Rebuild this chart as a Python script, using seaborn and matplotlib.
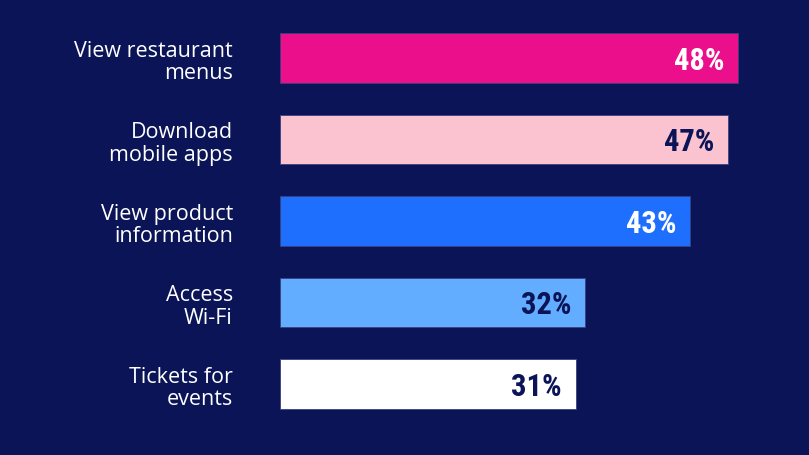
import matplotlib
matplotlib.use("Agg")
import matplotlib.pyplot as plt
import seaborn as sns
import pandas as pd

categories = ["View restaurant\nmenus", "Download\nmobile apps", "View product\ninformation", "Access\nWi-Fi", "Tickets for\nevents"]
values = [48, 47, 43, 32, 31]
value_labels = ["48%", "47%", "43%", "32%", "31%"]
bar_colors = ["#ec0f8c", "#fbc3d0", "#1f6fff", "#62adff", "#ffffff"]
label_colors = ["#ffffff", "#0a1456", "#ffffff", "#0a1456", "#0a1456"]

BG = "#0a1456"

sns.set_theme(style="white")
plt.rcParams['font.family'] = ['Open Sans', 'DejaVu Sans']

df = pd.DataFrame({"category": categories, "value": values})

fig = plt.figure(figsize=(8.09, 4.56), dpi=100, facecolor=BG)
ax = fig.add_axes([280/809, 0, 1 - 280/809, 1])
ax.set_facecolor(BG)

sns.barplot(data=df, x="value", y="category", hue="category", palette=bar_colors,
            legend=False, orient="h", width=0.613, ax=ax, saturation=1,
            edgecolor="#3a4080", linewidth=0.6)

ax.set_xlim(0, 529/9.54)
ax.set_ylim(4.871, -0.724)
ax.set_xlabel("")
ax.set_ylabel("")
ax.set_xticks([])
for s in ax.spines.values():
    s.set_visible(False)

ax.tick_params(axis="y", length=0, pad=34)
for lbl in ax.get_yticklabels():
    lbl.set_color("white")
    lbl.set_fontsize(15.5)
    lbl.set_fontfamily(['Open Sans', 'DejaVu Sans'])
    lbl.set_horizontalalignment("right")
    lbl.set_multialignment("right")
    lbl.set_linespacing(1.12)

for i, (v, t, c) in enumerate(zip(values, value_labels, label_colors)):
    ax.text(v - 1.45, i + 0.02, t, ha="right", va="center", color=c,
            fontsize=22, fontweight="bold", fontstretch="condensed",
            family=['Roboto Condensed', 'DejaVu Sans Condensed', 'Liberation Sans Narrow', 'Roboto', 'DejaVu Sans'])

fig.savefig("out.png", dpi=100, facecolor=BG)
